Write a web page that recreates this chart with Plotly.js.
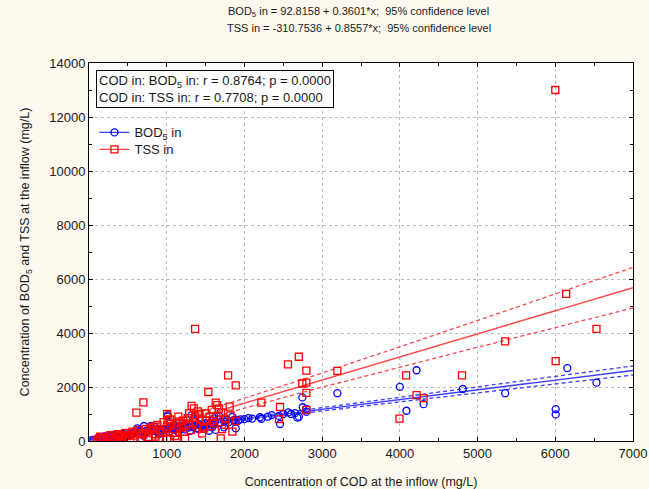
<!DOCTYPE html>
<html>
<head>
<meta charset="utf-8">
<script src="https://cdn.plot.ly/plotly-3.0.1.min.js"></script>
<style>
html,body{margin:0;padding:0;background:#fdf9ef;}
#chart{width:649px;height:489px;}
</style>
</head>
<body>
<div id="chart"></div>
<script>
// COD (x) and BOD5 (y) at the inflow, mg/L
var codBOD = [6155,6530,6005,6005,5355,4810,4000,4215,4085,4305,3196,2745,2797,2797,2700,2680,2565,2445,2458,2218,
  1888,1845,1737,1673,1608,1502,1888,1737,1587,1565,1695,1780,1888,1630,1545,1416,1010,1015,1320,1350,
  1160,1245,1070,620,708,795,840,100,180,260,330,400,470,520,560,600,650,720,760,820,880,930,980,1040,
  1100,1180,1230,1280,1330,1380,1440,1470,1540,300,450,700,900,1150,1300,1600,1950,2050,2300,2600,2750,1100,1200,60,140,220,
  120,160,200,240,280,320,360,380,420,440,480,500,540,580,610,640,680,730,780,810,850,870,910,950,990,
  1020,1060,1090,1130,1170,1210,1260,1310,1360,1420,1460,1500,1560,1620,1680,1740,1800,1860,1920,2000,2100,2200,2350,2500,2650];
var bod = [2700,2160,1180,985,1770,1925,2005,2620,1120,1365,1770,1615,1185,1085,900,865,1060,930,630,825,
  780,890,805,925,840,630,470,507,507,650,680,780,720,410,380,430,900,960,960,810,
  530,555,470,470,555,555,530,60,90,130,150,180,220,200,260,300,330,290,350,380,320,400,420,350,
  410,450,430,500,520,470,560,600,530,90,130,200,260,330,380,600,800,850,900,1000,1250,600,650,40,70,100,
  130,110,170,160,200,190,230,210,260,230,290,240,300,330,280,370,340,360,390,430,410,370,440,420,460,
  440,510,470,500,560,520,540,600,580,620,550,650,640,700,690,720,700,770,760,810,830,880,960,1000,1030];

// COD (x) and TSS (y) at the inflow, mg/L
var codTSS = [6000,6140,6530,6005,5355,4800,4080,4215,4305,3995,3196,2700,2560,2797,2745,2797,2797,2797,2458,2445,
  2218,1888,1790,1536,1365,1630,1810,1673,1510,1425,1590,1888,1845,1710,1695,700,610,1005,1010,1320,
  1350,1290,1365,1210,1160,1050,840,825,535,385,257,172,1130,1005,897,790,618,510,395,275,
  145,855,1005,1110,1220,1455,1605,1283,100,250,400,530,660,770,900,1045,1130,1236,1650,1480,
  1550,1750,1400,950,700,450,
  120,180,230,290,340,370,420,470,490,560,590,640,680,730,760,800,860,880,920,960,
  1000,1040,1080,1120,1150,1190,1250,1270,1310,1340,1380,1420,1470,1500,1560,1580,1640,1700,1760,1820];
var tss = [13000,5450,4150,2960,3690,2430,2430,1700,1590,830,2600,3120,2840,2610,2130,2160,1780,1150,1260,810,
  1420,2060,2430,1815,4150,1420,1270,1200,1020,800,740,740,345,440,100,1430,1050,1000,780,1300,
  1210,1020,900,750,720,630,530,430,280,185,160,100,555,530,430,380,285,220,220,220,
  160,160,100,185,345,285,650,650,30,40,50,40,60,50,40,60,40,80,1330,500,
  900,600,1100,300,250,100,
  60,120,80,150,90,250,150,300,180,350,200,400,300,450,150,500,250,600,350,700,
  450,800,300,650,900,500,550,850,400,700,600,1000,450,750,550,1150,900,1050,800,950];

// regression coefficients (from the title)
var bodFit = {a: 92.8158, b: 0.3601};
var tssFit = {a: -310.7536, b: 0.8557};
var xAxisTicks = [0,1000,2000,3000,4000,5000,6000,7000];
var yAxisTicks = [0,2000,4000,6000,8000,10000,12000,14000];

var BLUE = '#0000ff', RED = '#ff0000';
var BLUE_L = '#3b3bff', RED_L = '#ff4646';

function fitLines(xs, ys, fit) {
  var n = xs.length, xbar = 0, sxx = 0, sse = 0;
  xs.forEach(function(x){ xbar += x; }); xbar /= n;
  xs.forEach(function(x, i){ sxx += (x - xbar)*(x - xbar); var r = ys[i] - fit.a - fit.b*x; sse += r*r; });
  var s = Math.sqrt(sse/(n - 2)), t = 1.98;
  var gx = [], mid = [], lo = [], hi = [];
  for (var k = 0; k <= 140; k++) {
    var x = 7000*k/140;
    var yhat = fit.a + fit.b*x;
    var h = t*s*Math.sqrt(1/n + (x - xbar)*(x - xbar)/sxx);
    gx.push(x); mid.push(yhat); lo.push(yhat - h); hi.push(yhat + h);
  }
  return {x: gx, mid: mid, lo: lo, hi: hi};
}
var fb = fitLines(codBOD, bod, bodFit);
var ft = fitLines(codTSS, tss, tssFit);

var traces = [
  {x: fb.x, y: fb.mid, mode: 'lines', line: {color: BLUE_L, width: 1.4}, showlegend: false, hoverinfo: 'skip'},
  {x: fb.x, y: fb.lo, mode: 'lines', line: {color: BLUE_L, width: 1.3, dash: '4px,3px'}, showlegend: false, hoverinfo: 'skip'},
  {x: fb.x, y: fb.hi, mode: 'lines', line: {color: BLUE_L, width: 1.3, dash: '4px,3px'}, showlegend: false, hoverinfo: 'skip'},
  {x: ft.x, y: ft.mid, mode: 'lines', line: {color: RED_L, width: 1.4}, showlegend: false, hoverinfo: 'skip'},
  {x: ft.x, y: ft.lo, mode: 'lines', line: {color: RED_L, width: 1.3, dash: '4px,3px'}, showlegend: false, hoverinfo: 'skip'},
  {x: ft.x, y: ft.hi, mode: 'lines', line: {color: RED_L, width: 1.3, dash: '4px,3px'}, showlegend: false, hoverinfo: 'skip'},
  {x: codBOD, y: bod, mode: 'markers', showlegend: false,
   marker: {symbol: 'circle-open', size: 7, color: BLUE, line: {width: 1.3, color: BLUE}}},
  {x: codTSS, y: tss, mode: 'markers', showlegend: false,
   marker: {symbol: 'square-open', size: 7, color: RED, line: {width: 1.3, color: RED}}},
  {x: [null], y: [null], mode: 'lines+markers', name: 'BOD<sub>5</sub> in', legend: 'legend',
   line: {color: BLUE_L, width: 1.3}, marker: {symbol: 'circle-open', size: 7, color: BLUE, line: {width: 1.3}}},
  {x: [null], y: [null], mode: 'lines+markers', name: 'TSS in', legend: 'legend2',
   line: {color: RED_L, width: 1.3}, marker: {symbol: 'square-open', size: 7, color: RED, line: {width: 1.3}}}
];

var FONT = 'Liberation Sans, Arial, sans-serif';
var TXT = '#1a1a1a';
var layout = {
  width: 649, height: 489,
  paper_bgcolor: '#fdf9ef', plot_bgcolor: '#ffffff',
  margin: {l: 89, r: 16, t: 63, b: 48},
  font: {family: FONT, size: 13, color: TXT},
  xaxis: {range: [0, 7000], tickvals: xAxisTicks, ticktext: xAxisTicks.map(String),
          showgrid: true, gridcolor: '#bdbdbd', griddash: 'dot', gridwidth: 1,
          zeroline: false, showline: true, linecolor: '#000', linewidth: 1, mirror: 'ticks',
          ticks: 'inside', ticklen: 4, tickcolor: '#000',
          minor: {dtick: 500, tick0: 0, ticks: 'inside', ticklen: 3, tickcolor: '#000', showgrid: false},
          tickfont: {size: 13}, automargin: false,
          title: {text: 'Concentration of COD at the inflow (mg/L)', font: {size: 12.5}, standoff: 18}},
  yaxis: {range: [0, 14000], tickvals: yAxisTicks, ticktext: yAxisTicks.map(String),
          showgrid: true, gridcolor: '#bdbdbd', griddash: 'dot', gridwidth: 1,
          zeroline: false, showline: true, linecolor: '#000', linewidth: 1, mirror: 'ticks',
          ticks: 'inside', ticklen: 4, tickcolor: '#000',
          minor: {dtick: 1000, tick0: 0, ticks: 'inside', ticklen: 3, tickcolor: '#000', showgrid: false},
          tickfont: {size: 13}, automargin: false,
          title: {text: 'Concentration of BOD<sub>5</sub> and TSS at the inflow (mg/L)', font: {size: 12.5}, standoff: 16}},
  legend: {x: 0.01, y: 0.856, xanchor: 'left', yanchor: 'top', bgcolor: 'rgba(0,0,0,0)',
           font: {size: 13}, itemwidth: 30},
  legend2: {x: 0.01, y: 0.811, xanchor: 'left', yanchor: 'top', bgcolor: 'rgba(0,0,0,0)',
           font: {size: 13}, itemwidth: 30},
  annotations: [
    {xref: 'paper', yref: 'paper', x: 0.495, y: 1.1349, xanchor: 'center', yanchor: 'middle', showarrow: false,
     text: 'BOD<sub>5</sub> in = 92.8158 + 0.3601*x;  95% confidence level', font: {size: 11, color: TXT}},
    {xref: 'paper', yref: 'paper', x: 0.497, y: 1.0926, xanchor: 'center', yanchor: 'middle', showarrow: false,
     text: 'TSS in = -310.7536 + 0.8557*x;  95% confidence level', font: {size: 11, color: TXT}},
    {xref: 'paper', yref: 'paper', x: 0.013, y: 0.982, xanchor: 'left', yanchor: 'top',
     text: 'COD in: BOD<sub>5</sub> in: r = 0.8764; p = 0.0000<br>COD in: TSS in: r = 0.7708; p = 0.0000',
     showarrow: false, align: 'left', bgcolor: '#ffffff', bordercolor: '#000', borderwidth: 1, borderpad: 2,
     font: {size: 13, color: TXT}}
  ],
  showlegend: true
};
Plotly.newPlot('chart', traces, layout, {displayModeBar: false, staticPlot: true});
</script>
</body>
</html>
